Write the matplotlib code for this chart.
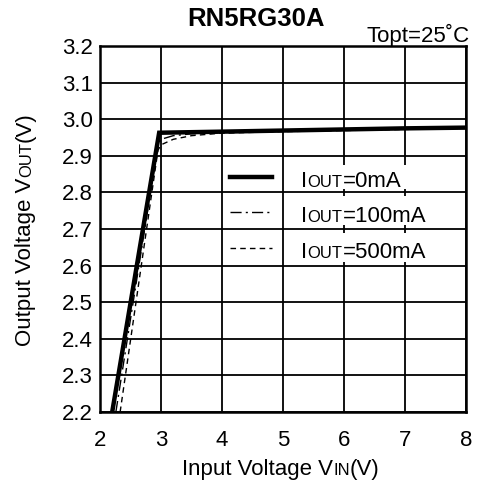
import matplotlib
matplotlib.use("Agg")
import matplotlib.pyplot as plt
from matplotlib.lines import Line2D
from matplotlib.patches import Rectangle
from matplotlib.transforms import IdentityTransform

plt.rcParams['font.family'] = ['Liberation Sans', 'DejaVu Sans']

# data
vin_0 = [2.20, 2.97, 4.0, 5.0, 6.0, 7.0, 8.0]
vout_0 = [2.20, 2.963, 2.966, 2.969, 2.972, 2.975, 2.977]

vin_100 = [2.26, 2.95, 3.0, 3.2, 3.5, 4.0, 5.0, 6.0, 7.0, 8.0]
vout_100 = [2.20, 2.93, 2.945, 2.955, 2.96, 2.963, 2.967, 2.97, 2.973, 2.975]

vin_500 = [2.33, 2.95, 3.0, 3.2, 3.5, 4.0, 5.0, 6.0, 7.0, 8.0]
vout_500 = [2.20, 2.915, 2.93, 2.945, 2.955, 2.962, 2.966, 2.969, 2.972, 2.975]

# labels as (text, small-caps?) pieces
legend_labels = [
    [("I", False), ("OUT", True), ("=0mA", False)],
    [("I", False), ("OUT", True), ("=100mA", False)],
    [("I", False), ("OUT", True), ("=500mA", False)],
]
xlabel_parts = [("Input Voltage V", False), ("IN", True), ("(V)", False)]
ylabel_parts = [("Output Voltage V", False), ("OUT", True), ("(V)", False)]
title = "RN5RG30A"
cond = "Topt=25\u02daC"
xticks = [2, 3, 4, 5, 6, 7, 8]
yticks = [2.2, 2.3, 2.4, 2.5, 2.6, 2.7, 2.8, 2.9, 3.0, 3.1, 3.2]

FS = 16
FS_SMALL = 12

W, H = 480, 483
fig = plt.figure(figsize=(W / 100, H / 100), dpi=100)
ax = fig.add_axes([100 / W, 1 - 412 / H, 366 / W, 366 / H])

ax.set_xlim(2, 8)
ax.set_ylim(2.2, 3.2)
ax.set_xticks(xticks)
ax.set_yticks(yticks)
ax.set_yticklabels([f"{v:.1f}" for v in yticks])
ax.grid(True, color='black', linewidth=1.3)
ax.set_axisbelow(True)
for s in ax.spines.values():
    s.set_linewidth(1.8)
ax.tick_params(length=0, labelsize=FS)
ax.tick_params(axis='x', pad=13)
ax.tick_params(axis='y', pad=5)

ax.plot(vin_0, vout_0, color='black', lw=3.2, solid_joinstyle='miter', zorder=5)
ax.plot(vin_100, vout_100, color='black', lw=1, dashes=[8, 3, 1.5, 3], zorder=4)
ax.plot(vin_500, vout_500, color='black', lw=1, dashes=[4, 3], zorder=4)

renderer = fig.canvas.get_renderer()


def sc_text(parts, x, y, rotation=0, center=True, zorder=3):
    objs, widths = [], []
    for s, small in parts:
        t = fig.text(0, 0, s, fontsize=FS_SMALL if small else FS,
                     transform=IdentityTransform(), ha='left', va='baseline',
                     rotation_mode='anchor', zorder=zorder)
        widths.append(t.get_window_extent(renderer).width)
        objs.append(t)
    pos = -sum(widths) / 2 if center else 0
    for t, w in zip(objs, widths):
        if rotation == 0:
            t.set_position((x + pos, y))
        else:
            t.set_rotation(90)
            t.set_position((x, y + pos))
        pos += w
    return objs


# legend drawn manually inside the axes
styles = [dict(lw=3.2), dict(lw=1, dashes=[8, 3, 1.5, 3]), dict(lw=1, dashes=[4, 3])]
line_y = [2.842, 2.746, 2.648]
text_base = [2.814, 2.718, 2.622]
boxes = [(2.808, 2.875), (2.71, 2.79), (2.61, 2.69)]
for ly, tb, (b0, b1), st, lab in zip(line_y, text_base, boxes, styles, legend_labels):
    ax.add_patch(Rectangle((5.12, b0), 2.33, b1 - b0, facecolor='white',
                           edgecolor='none', zorder=1))
    ax.add_line(Line2D([4.13, 4.82], [ly, ly], color='black', zorder=6, **st))
    px, py = ax.transData.transform((5.3, tb))
    sc_text(lab, px, py, center=False, zorder=6)

# axis labels
sc_text(xlabel_parts, 281, H - 475)
sc_text(ylabel_parts, 31, H - 229, rotation=90)

fig.text(256 / W, 1 - 19 / H, title, fontsize=18.5, fontweight='bold',
         ha='center', va='center')
fig.text(470 / W, 1 - 35 / H, cond, fontsize=FS, ha='right', va='center')

fig.savefig("out.png", dpi=100)
